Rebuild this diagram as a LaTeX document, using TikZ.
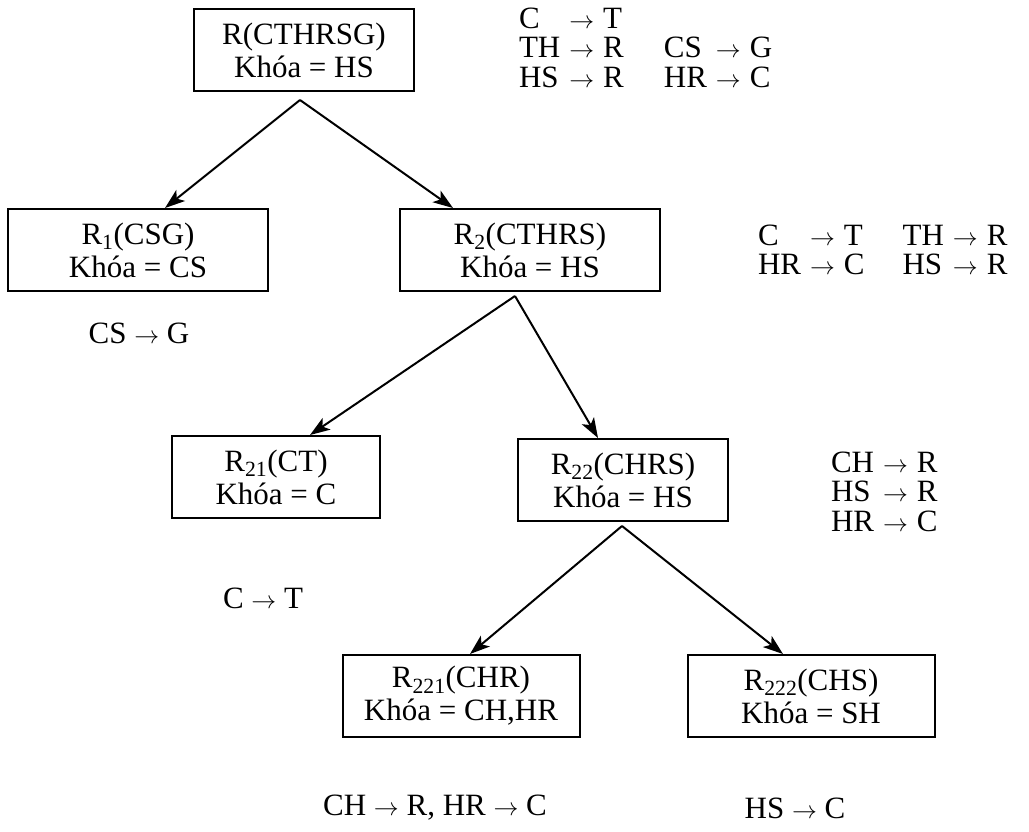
\documentclass[tikz,border=0pt]{standalone}
\usepackage{fontspec}
\setmainfont{Liberation Serif}
\usetikzlibrary{positioning,arrows.meta}

\tikzset{
  rel/.style={draw,minimum height=82pt,align=center,inner sep=2pt,font=\fontsize{31}{33}\selectfont},
  fd/.style={inner sep=0pt,font=\fontsize{31}{29}\selectfont}
}
\newcommand{\fdsp}{\hspace{9pt}}

\begin{document}
\begin{tikzpicture}[>={Stealth[length=20pt,width=14pt,inset=5pt]},x=1pt,y=-1pt,line width=2pt]
    \useasboundingbox (0,0) rectangle (1029,831);
    % relations
    \node[rel,minimum width=220pt] (root) at (304,50) {R(CTHRSG)\\Khóa = HS};
    \node[rel,minimum width=260pt] (r1) at (138,250) {R\textsubscript{1}(CSG)\\Khóa = CS};
    \node[rel,minimum width=260pt] (r2) at (530,250) {R\textsubscript{2}(CTHRS)\\Khóa = HS};
    \node[rel,minimum width=208pt] (r21) at (276,477) {R\textsubscript{21}(CT)\\Khóa = C};
    \node[rel,minimum width=210pt] (r22) at (623,480) {R\textsubscript{22}(CHRS)\\Khóa = HS};
    \node[rel,minimum width=237pt] (r221) at (461,696) {R\textsubscript{221}(CHR)\\Khóa = CH,HR};
    \node[rel,minimum width=247pt] (r222) at (811,696) {R\textsubscript{222}(CHS)\\Khóa = SH};
    % dependencies
    \node[fd,anchor=west] (fdroot) at (518,52) {\begin{tabular}{@{}l@{\fdsp}l@{\fdsp}l@{\hspace{40pt}}l@{\fdsp}l@{\fdsp}l@{}}
        C & $\to$ & T \\
        TH & $\to$ & R & CS & $\to$ & G \\
        HS & $\to$ & R & HR & $\to$ & C
    \end{tabular}};
    \node[fd,anchor=west] (fdr2) at (757,254) {\begin{tabular}{@{}l@{\fdsp}l@{\fdsp}l@{\hspace{38pt}}l@{\fdsp}l@{\fdsp}l@{}}
        C & $\to$ & T & TH & $\to$ & R \\
        HR & $\to$ & C & HS & $\to$ & R
    \end{tabular}};
    \node[fd,anchor=west] (fdr22) at (830,496) {\begin{tabular}{@{}l@{\fdsp}l@{\fdsp}l@{}}
        CH & $\to$ & R \\
        HS & $\to$ & R \\
        HR & $\to$ & C
    \end{tabular}};
    \node[fd] (fdr1) at (139,333) {CS $\to$ G};
    \node[fd] (fdr21) at (263,598) {C $\to$ T};
    \node[fd] (fdr221) at (435,808) {CH $\to$ R, HR $\to$ C};
    \node[fd] (fdr222) at (795,808) {HS $\to$ C};
    % decomposition
    \draw[->] ([xshift=-4pt,yshift=-8pt]root.south) -- ([xshift=27pt]r1.north);
    \draw[->] ([xshift=-4pt,yshift=-8pt]root.south) -- ([xshift=-77pt]r2.north);
    \draw[->] ([xshift=-15pt,yshift=-4pt]r2.south) -- ([xshift=34pt]r21.north);
    \draw[->] ([xshift=-15pt,yshift=-4pt]r2.south) -- ([xshift=-25pt]r22.north);
    \draw[->] ([xshift=-1pt,yshift=-4pt]r22.south) -- ([xshift=9pt]r221.north);
    \draw[->] ([xshift=-1pt,yshift=-4pt]r22.south) -- ([xshift=-28pt]r222.north);
\end{tikzpicture}
\end{document}
